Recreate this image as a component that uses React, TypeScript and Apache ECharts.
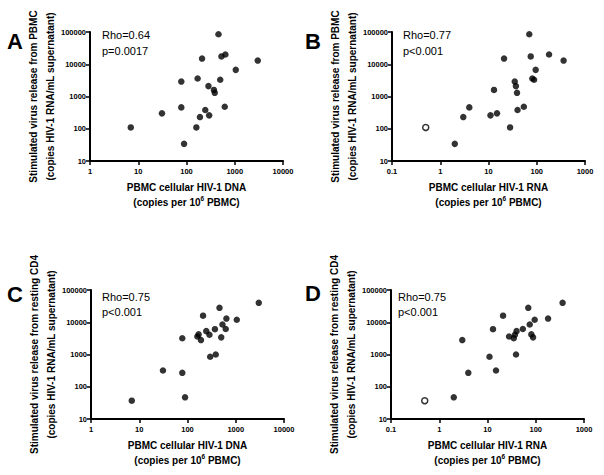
import React, { useEffect, useRef } from "react";
import * as echarts from "echarts";

// 21 donors, same order in every array
const pbmcDna = [7, 31, 89, 78, 78, 160, 170, 190, 210, 245, 285, 295, 370, 385, 460, 500, 530, 620, 640, 1050, 3000];
const pbmcRna = [0.5, 15, 2, 35, 4, 28, 81, 3, 21, 40, 37, 11, 13, 39, 70, 88, 75, 54, 180, 95, 360];
const releasePbmc = [110, 300, 34, 2900, 460, 110, 3600, 230, 15000, 380, 2100, 260, 1600, 1300, 85000, 3300, 17500, 480, 20000, 6700, 13000];
const releaseCd4 = [37, 320, 47, 3200, 270, 3600, 4200, 2800, 16000, 5300, 4100, 850, 6100, 1000, 28000, 3400, 8500, 6200, 13000, 12000, 40000];
const rnaBelowDetection = [true, false, false, false, false, false, false, false, false, false, false, false, false, false, false, false, false, false, false, false, false];

const panelLetters = ["A", "B", "C", "D"];
const rhoLabels = ["Rho=0.64", "Rho=0.77", "Rho=0.75", "Rho=0.75"];
const pLabels = ["p=0.0017", "p<0.001", "p<0.001", "p<0.001"];
const yTicks = [10, 100, 1000, 10000, 100000];
const xTicksDna = [1, 10, 100, 1000, 10000];
const xTicksRna = [0.1, 1, 10, 100, 1000];
const yTitleLines = ["Stimulated virus release from PBMC", "Stimulated virus release from resting CD4"];
const yTitleLine2 = "(copies HIV-1 RNA/mL supernatant)";
const xTitleLines = ["PBMC cellular HIV-1 DNA", "PBMC cellular HIV-1 RNA"];

const FONT = "Liberation Sans, Arial, sans-serif";

// Axes run in decades above the axis minimum (log10 units), labelled back in copies.
const decadesAbove = (v: number, base: number) => Math.log10(v / base);

function fmtVal(x: number): string {
  return String(parseFloat(x.toPrecision(6)));
}

export default function App() {
  const ref = useRef<HTMLDivElement>(null);

  useEffect(() => {
    if (!ref.current) return;
    const chart = echarts.init(ref.current, undefined, { renderer: "svg" });

    const grids = [
      { left: 90, top: 32, width: 193, height: 129 },
      { left: 392, top: 32, width: 193, height: 129 },
      { left: 91, top: 290, width: 193, height: 129 },
      { left: 391, top: 290, width: 193, height: 129 },
    ];
    const letterPos = [
      [7, 41], [305, 41], [7, 294], [305, 293],
    ];
    const statPos = [
      [102, 35, 51], [403, 35, 51], [102, 297, 312], [398, 297, 312],
    ];

    const xAxes: any[] = [];
    const yAxes: any[] = [];
    const series: any[] = [];
    const graphics: any[] = [];

    for (let p = 0; p < 4; p++) {
      const isRna = p === 1 || p === 3;
      const isCd4 = p >= 2;
      const xt = isRna ? xTicksRna : xTicksDna;
      const xs = isRna ? pbmcRna : pbmcDna;
      const ys = isCd4 ? releaseCd4 : releasePbmc;
      const xBase = xt[0];
      const yBase = yTicks[0];
      const g = grids[p];

      xAxes.push({
        type: "value", gridIndex: p,
        min: 0, max: xt.length - 1, interval: 1,
        axisLine: { show: true, lineStyle: { color: "#000", width: 2 } },
        axisTick: { show: true, length: 4, lineStyle: { color: "#000", width: 1.5 } },
        axisLabel: { fontSize: 7.5, fontWeight: "bold", color: "#000", fontFamily: FONT, margin: 6, formatter: (v: number) => fmtVal(xBase * Math.pow(10, v)) },
        splitLine: { show: false },
      });
      yAxes.push({
        type: "value", gridIndex: p,
        min: 0, max: yTicks.length - 1, interval: 1,
        axisLine: { show: true, lineStyle: { color: "#000", width: 2 } },
        axisTick: { show: true, length: 4, lineStyle: { color: "#000", width: 1.5 } },
        axisLabel: { fontSize: 7.5, fontWeight: "bold", color: "#000", fontFamily: FONT, margin: 4, formatter: (v: number) => fmtVal(yBase * Math.pow(10, v)) },
        splitLine: { show: false },
      });

      // axis titles
      graphics.push({
        type: "text", x: g.left + g.width / 2, y: g.top + g.height + 33.5,
        style: {
          text: `{b|${xTitleLines[isRna ? 1 : 0]}}\n{b|(copies per 10}{s|6}{b| PBMC)}`,
          textAlign: "center", textVerticalAlign: "middle",
          rich: {
            b: { fontSize: 10, fontWeight: "bold", fill: "#000", fontFamily: FONT, lineHeight: 15 },
            s: { fontSize: 6.5, fontWeight: "bold", fill: "#000", fontFamily: FONT, lineHeight: 15, verticalAlign: "top", padding: [0, 0, 3, 0] },
          },
        },
      });
      graphics.push({
        type: "text", x: g.left - 48, y: g.top + g.height / 2, rotation: Math.PI / 2,
        style: {
          text: `${yTitleLines[isCd4 ? 1 : 0]}\n${yTitleLine2}`,
          textAlign: "center", textVerticalAlign: "middle",
          fontSize: 10, fontWeight: "bold", fill: "#000", fontFamily: FONT, lineHeight: 17,
        },
      });

      const filled: number[][] = [];
      const open: number[][] = [];
      for (let i = 0; i < xs.length; i++) {
        const pt = [decadesAbove(xs[i], xBase), decadesAbove(ys[i], yBase)];
        if (isRna && rnaBelowDetection[i]) open.push(pt);
        else filled.push(pt);
      }
      series.push({
        type: "scatter", xAxisIndex: p, yAxisIndex: p,
        data: filled, symbol: "circle", symbolSize: 6.5,
        itemStyle: { color: "#000" }, z: 5,
      });
      if (open.length) {
        series.push({
          type: "scatter", xAxisIndex: p, yAxisIndex: p,
          data: open, symbol: "circle", symbolSize: 6,
          itemStyle: { color: "#fff", borderColor: "#000", borderWidth: 1.5 }, z: 5,
        });
      }

      graphics.push({
        type: "text", x: letterPos[p][0], y: letterPos[p][1],
        style: { text: panelLetters[p], fontSize: 22, fontWeight: "bold", fill: "#000", fontFamily: FONT, textVerticalAlign: "middle" },
      });
      graphics.push({
        type: "text", x: statPos[p][0], y: statPos[p][1],
        style: { text: rhoLabels[p], fontSize: 11, fill: "#000", fontFamily: FONT, textVerticalAlign: "middle" },
      });
      graphics.push({
        type: "text", x: statPos[p][0], y: statPos[p][2],
        style: { text: pLabels[p], fontSize: 11, fill: "#000", fontFamily: FONT, textVerticalAlign: "middle" },
      });
    }

    chart.setOption({
      animation: false,
      grid: grids,
      xAxis: xAxes,
      yAxis: yAxes,
      series,
      graphic: graphics,
    });

    return () => chart.dispose();
  }, []);

  return <div ref={ref} style={{ position: "absolute", left: 0, top: 0, width: 604, height: 475 }} />;
}
